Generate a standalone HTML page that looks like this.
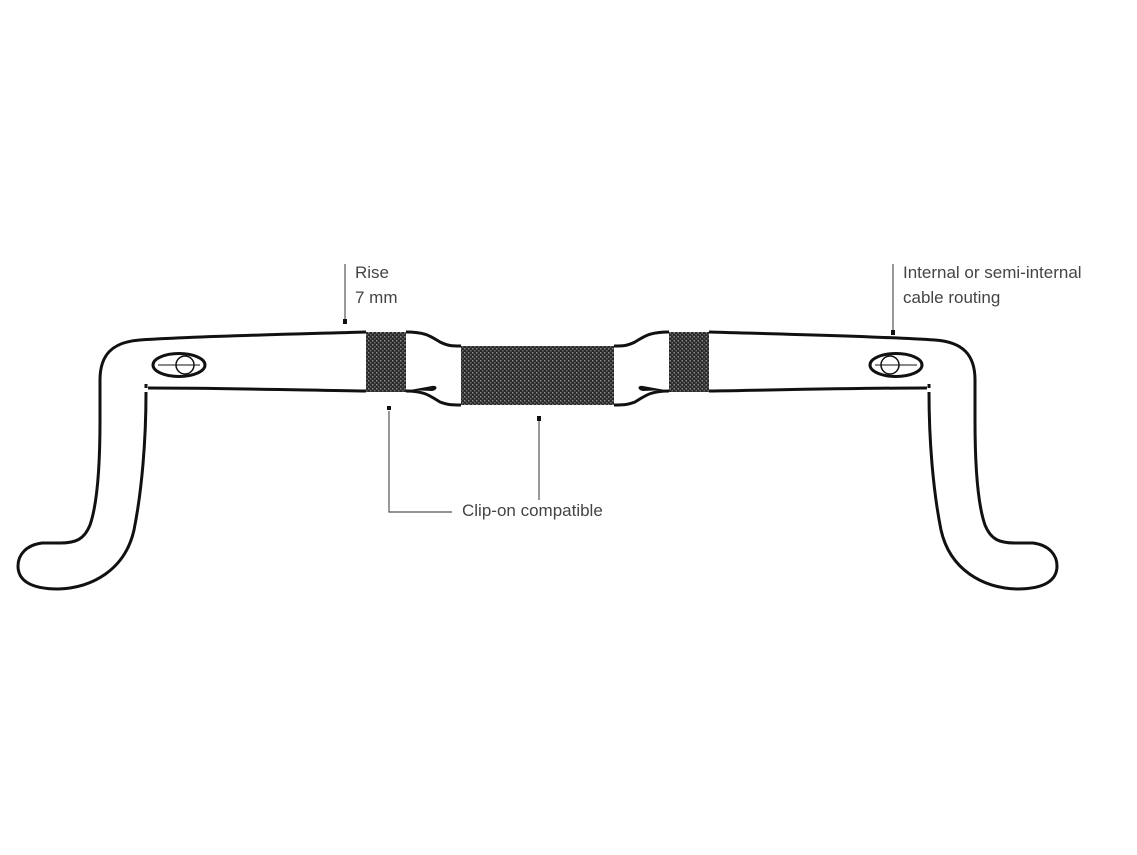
<!DOCTYPE html>
<html><head><meta charset="utf-8"><style>
html,body{margin:0;padding:0;background:#fff;}
svg{display:block;}
text{font-family:"Liberation Sans Narrow","Liberation Sans",sans-serif;font-size:17px;fill:#444;}
</style></head><body>
<svg width="1137" height="855" viewBox="0 0 1137 855" xmlns="http://www.w3.org/2000/svg">
<defs>
<pattern id="tx" width="4" height="4" patternUnits="userSpaceOnUse">
<rect width="4" height="4" fill="#2a2a2a"/>
<rect x="0" y="0" width="1.5" height="1.5" fill="#8a8a8a"/>
<rect x="2" y="2" width="1.5" height="1.5" fill="#6a6a6a"/>
</pattern>
<g id="half">
<path d="M366,332 C300,334 200,336 140,340 C112,342 100,355 100,380 L100,420 C100,470 97,505 90,525 C84,540 75,543 60,543 L42,543 C26,545 18,555 18,566 C18,580 30,589 58,589 C92,588 125,570 134,530 C142,490 146,440 146,392" fill="none" stroke="#111" stroke-width="3"/>
<path d="M146,388 L146,384 M148,388 C220,388 300,390 366,391" fill="none" stroke="#111" stroke-width="3"/>
<ellipse cx="179" cy="365" rx="26" ry="11.5" fill="none" stroke="#111" stroke-width="3"/>
<circle cx="185" cy="365" r="9" fill="none" stroke="#111" stroke-width="1.5"/>
<line x1="158" y1="365" x2="200" y2="365" stroke="#111" stroke-width="1"/>
<rect x="366" y="332" width="40" height="60" fill="url(#tx)"/>
<path d="M406,332 C425,332 430,336 440,342 C448,346 452,346 461,346" fill="none" stroke="#111" stroke-width="3"/>
<path d="M406,391 C425,391 430,396 440,402 C448,405 452,405 461,405" fill="none" stroke="#111" stroke-width="3"/>
<path d="M410,390 L432,386 C438,385 438,390 432,391 Z" fill="#111"/>
</g>
</defs>
<use href="#half"/>
<use href="#half" transform="translate(1075,0) scale(-1,1)"/>
<rect x="461" y="346" width="153" height="59" fill="url(#tx)"/>
<!-- leaders -->
<line x1="345" y1="264" x2="345" y2="320" stroke="#555" stroke-width="1.2"/>
<rect x="343" y="319" width="4" height="5" fill="#111"/>
<line x1="893" y1="264" x2="893" y2="330" stroke="#555" stroke-width="1.2"/>
<rect x="891" y="330" width="4" height="5" fill="#111"/>
<rect x="387" y="406" width="4" height="4" fill="#111"/>
<polyline points="389,411 389,512 452,512" fill="none" stroke="#555" stroke-width="1.2"/>
<rect x="537" y="416" width="4" height="5" fill="#111"/>
<line x1="539" y1="421" x2="539" y2="500" stroke="#555" stroke-width="1.2"/>
<text x="355" y="278">Rise</text>
<text x="355" y="303">7 mm</text>
<text x="903" y="278">Internal or semi-internal</text>
<text x="903" y="303">cable routing</text>
<text x="462" y="516">Clip-on compatible</text>
</svg>
</body></html>
